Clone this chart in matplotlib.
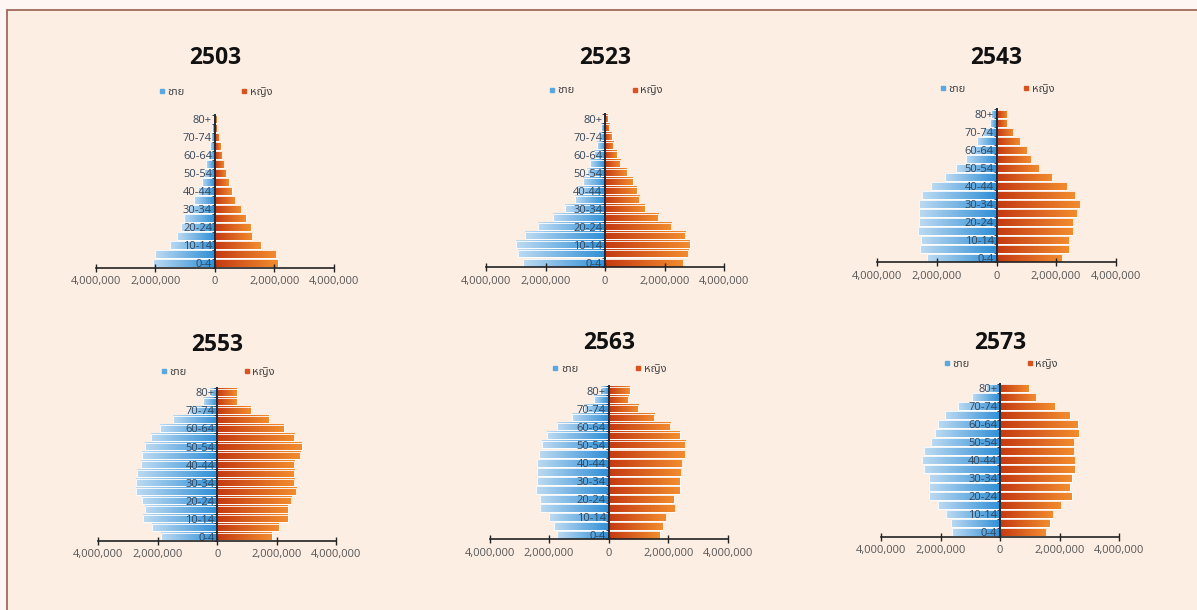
import matplotlib
matplotlib.use('Agg')
import matplotlib.pyplot as plt
import numpy as np
from matplotlib.colors import LinearSegmentedColormap
from matplotlib.lines import Line2D
from matplotlib.patches import Rectangle
from matplotlib.ticker import FuncFormatter

plt.rcParams['font.family'] = ['Open Sans', 'Noto Sans', 'DejaVu Sans']
# Thai legend labels need a family with Thai glyphs
thai_fonts = ['Noto Sans Thai', 'Noto Sans Thai Looped', 'Loma', 'Garuda',
              'Tlwg Typo', 'Kinnari', 'Norasi', 'Sawasdee', 'Umpush',
              'FreeSans', 'Noto Serif Thai', 'Noto Sans CJK SC',
              'Noto Sans', 'DejaVu Sans']

age_groups = ['0-4', '5-9', '10-14', '15-19', '20-24', '25-29', '30-34',
              '35-39', '40-44', '45-49', '50-54', '55-59', '60-64',
              '65-69', '70-74', '75-79', '80+']
years = ['2503', '2523', '2543', '2553', '2563', '2573']

# population by age group, youngest first
male_2503 = [2080000, 2000000, 1510000, 1260000, 1140000, 1030000, 910000,
             700000, 560000, 420000, 370000, 300000, 240000, 180000,
             130000, 80000, 50000]
female_2503 = [2110000, 2060000, 1540000, 1260000, 1200000, 1030000, 890000,
               690000, 570000, 460000, 380000, 310000, 250000, 190000,
               140000, 80000, 60000]
male_2523 = [2770000, 2940000, 3000000, 2680000, 2240000, 1750000, 1360000,
             1000000, 950000, 750000, 600000, 500000, 380000, 280000,
             200000, 130000, 80000]
female_2523 = [2620000, 2790000, 2850000, 2690000, 2230000, 1790000, 1330000,
               1150000, 1070000, 930000, 730000, 510000, 400000, 280000,
               230000, 140000, 90000]
male_2543 = [2340000, 2580000, 2550000, 2640000, 2610000, 2610000, 2610000,
             2490000, 2210000, 1740000, 1350000, 1030000, 900000, 670000,
             450000, 220000, 170000]
female_2543 = [2190000, 2440000, 2440000, 2560000, 2560000, 2720000, 2810000,
               2640000, 2360000, 1870000, 1430000, 1160000, 1010000, 790000,
               560000, 340000, 340000]
male_2553 = [1900000, 2200000, 2490000, 2430000, 2530000, 2740000, 2740000,
             2700000, 2570000, 2530000, 2430000, 2240000, 1930000, 1490000,
             950000, 490000, 250000]
female_2553 = [1830000, 2060000, 2380000, 2380000, 2490000, 2660000, 2590000,
               2590000, 2590000, 2790000, 2840000, 2590000, 2230000, 1730000,
               1130000, 670000, 670000]
male_2563 = [1740000, 1850000, 1990000, 2290000, 2310000, 2450000, 2400000,
             2400000, 2400000, 2330000, 2250000, 2060000, 1740000, 1220000,
             820000, 480000, 250000]
female_2563 = [1710000, 1810000, 1920000, 2240000, 2180000, 2380000, 2380000,
               2430000, 2460000, 2580000, 2580000, 2380000, 2060000, 1520000,
               1000000, 660000, 700000]
male_2573 = [1600000, 1650000, 1820000, 2100000, 2400000, 2400000, 2400000,
             2560000, 2620000, 2560000, 2330000, 2190000, 2080000, 1850000,
             1420000, 940000, 480000]
female_2573 = [1550000, 1660000, 1780000, 2060000, 2410000, 2340000, 2410000,
               2510000, 2520000, 2490000, 2490000, 2640000, 2600000, 2350000,
               1840000, 1210000, 970000]

males = [male_2503, male_2523, male_2543, male_2553, male_2563, male_2573]
females = [female_2503, female_2523, female_2543, female_2553, female_2563,
           female_2573]

# layout in figure fraction: axes left, axes bottom, title y, legend y
boxes = [(0.080, 0.561, 0.905, 0.848), (0.406, 0.562, 0.905, 0.851),
         (0.733, 0.570, 0.905, 0.854), (0.082, 0.113, 0.434, 0.389),
         (0.409, 0.116, 0.438, 0.395), (0.736, 0.120, 0.438, 0.402)]

blue_cmap = LinearSegmentedColormap.from_list('m', ['#bcdaf2', '#2f8fd6'])
red_cmap = LinearSegmentedColormap.from_list('f', ['#c43a12', '#f28c2e'])
grad = np.linspace(0, 1, 64).reshape(1, -1)
bar_h = 0.85


def gradient_bars(ax, values, cmap, sign):
    for i, v in enumerate(values):
        v = sign * v
        left, right = (v, 0) if sign < 0 else (0, v)
        ax.imshow(grad, cmap=cmap, aspect='auto', zorder=0.8,
                  extent=(left, right, i - bar_h / 2, i + bar_h / 2),
                  interpolation='bicubic')
    ax.barh(range(len(values)), [sign * v for v in values], height=bar_h,
            color='none', edgecolor='white', linewidth=0.6, zorder=0.9)


fig = plt.figure(figsize=(11.97, 6.10), dpi=100, facecolor='#fdf6f3')
fig.patches.append(Rectangle((0.006, -0.02), 1.1, 1.004,
                             transform=fig.transFigure, facecolor='#fdeee4',
                             edgecolor='#a06a5c', linewidth=1.3, zorder=-1))

fmt = FuncFormatter(lambda x, p: f'{abs(int(x)):,}')
ax_w, ax_h = 0.199, 0.251

for year, male, female, (left, bottom, ty, ly) in zip(years, males, females,
                                                       boxes):
    ax = fig.add_axes([left, bottom, ax_w, ax_h])
    ax.set_facecolor('none')
    gradient_bars(ax, male, blue_cmap, -1)
    gradient_bars(ax, female, red_cmap, 1)
    ax.set_xlim(-4000000, 4000000)
    ax.set_ylim(-0.5, len(age_groups) - 0.5)

    for side in ['top', 'right']:
        ax.spines[side].set_visible(False)
    ax.spines['left'].set_position(('data', 0))
    ax.spines['left'].set_color('#1c2a3a')
    ax.spines['left'].set_linewidth(1.4)
    ax.spines['left'].set_zorder(3)
    ax.spines['bottom'].set_color('#222222')
    ax.spines['bottom'].set_linewidth(1.2)

    ax.set_xticks([-4000000, -2000000, 0, 2000000, 4000000])
    ax.xaxis.set_major_formatter(fmt)
    ax.tick_params(axis='x', direction='inout', length=6, width=1,
                   color='#222222', labelsize=8, labelcolor='#555555',
                   pad=3)
    ax.set_yticks(range(0, len(age_groups), 2))
    ax.set_yticklabels(age_groups[::2])
    ax.set_yticks(np.arange(-0.5, len(age_groups), 1), minor=True)
    ax.tick_params(axis='y', which='major', length=0, labelsize=8,
                   labelcolor='#34465a', pad=2)
    ax.tick_params(axis='y', which='minor', direction='out', length=2,
                   color='#1c2a3a')
    for lbl in ax.get_yticklabels():
        lbl.set_zorder(4)

    cx = left + ax_w / 2
    fig.text(cx, ty, year, fontsize=16.5, fontweight='bold',
             color='#111111', ha='center', va='center')
    handles = [Line2D([], [], marker='s', linestyle='none', markersize=3,
                      color='#5aa8e2', label='ชาย'),
               Line2D([], [], marker='s', linestyle='none', markersize=3,
                      color='#d9531e', label='หญิง')]
    ax.legend(handles=handles, loc='center', ncol=2,
              bbox_to_anchor=(cx, ly), bbox_transform=fig.transFigure,
              frameon=False, prop={'family': thai_fonts, 'size': 8},
              handletextpad=0.1, columnspacing=5, borderpad=0,
              handlelength=0.8, labelcolor='#444444')

fig.savefig('out.png', dpi=100, facecolor=fig.get_facecolor())
